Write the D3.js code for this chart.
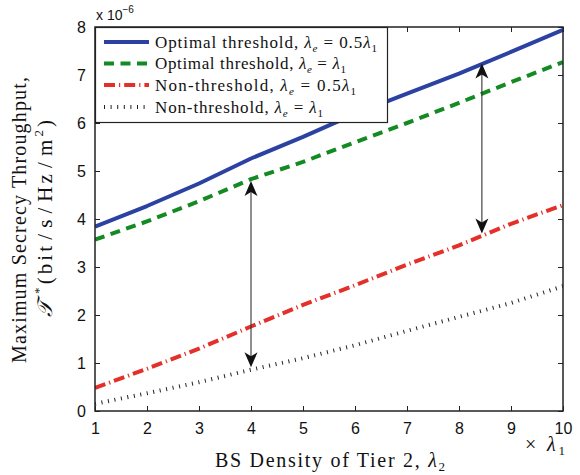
<!DOCTYPE html>
<html><head><meta charset="utf-8">
<script src="https://cdn.jsdelivr.net/npm/d3@7"></script>
<style>
body{margin:0;background:#fff;}
svg{display:block;}
</style></head>
<body>
<svg id="chart" width="580" height="475"></svg>
<script>
// ---- data ----
const xValues = [1,2,3,4,5,6,7,8,9,10];
const optimalHalf = [3.84,4.27,4.74,5.26,5.71,6.19,6.61,7.03,7.48,7.94];
const optimalFull = [3.57,3.95,4.37,4.83,5.19,5.60,6.00,6.42,6.85,7.27];
const nonThreshHalf = [0.48,0.88,1.30,1.76,2.21,2.62,3.05,3.45,3.90,4.29];
const nonThreshFull = [0.15,0.37,0.60,0.86,1.10,1.37,1.67,1.96,2.25,2.60];
const seriesNames = ["Optimal threshold, ","Optimal threshold, ","Non-threshold, ","Non-threshold, "];
const seriesRhs = ["0.5", "", "0.5", ""];
const xTicks = [1,2,3,4,5,6,7,8,9,10];
const yTicks = [0,1,2,3,4,5,6,7,8];
const arrowX = [4, 8.44];
const arrowTop = [4.79, 7.24];
const arrowBottom = [0.91, 3.70];

const series = [
  {vals: optimalHalf, color:"#2b42a3", width:4, dash:null},
  {vals: optimalFull, color:"#138a22", width:4, dash:"10,6.5"},
  {vals: nonThreshHalf, color:"#e3302a", width:4, dash:"11,4,1.2,4"},
  {vals: nonThreshFull, color:"#222", width:4, dash:"1,5.6"}
];
const legendTextLen = [222, 191, 201, 168];

const svg = d3.select("#chart");
const L=95, R=563, T=27, B=411;
const x = d3.scaleLinear().domain([1,10]).range([L,R]);
const y = d3.scaleLinear().domain([0,8]).range([B,T]);

const serif = "'Liberation Serif','Times New Roman',serif";
const sans = "'Liberation Sans',Arial,sans-serif";

// clip
svg.append("defs").append("clipPath").attr("id","clip")
  .append("rect").attr("x",L).attr("y",T).attr("width",R-L).attr("height",B-T);

// lines
const line = d3.line().x((d,i)=>x(xValues[i])).y(d=>y(d));
const g = svg.append("g").attr("clip-path","url(#clip)");
series.forEach(s=>{
  g.append("path").attr("d", line(s.vals)).attr("fill","none")
    .attr("stroke", s.color).attr("stroke-width", s.width)
    .attr("stroke-dasharray", s.dash).attr("stroke-linejoin","round");
});

// arrows
function headPath(){ return "M0,0 L-15,-6.5 L-11,0 L-15,6.5 Z"; }
arrowX.forEach((ax,i)=>{
  const xp = x(ax), y1 = y(arrowTop[i]), y2 = y(arrowBottom[i]);
  svg.append("line").attr("x1",xp).attr("x2",xp).attr("y1",y1+10).attr("y2",y2-10)
    .attr("stroke","#333").attr("stroke-width",1.1);
  svg.append("path").attr("d",headPath()).attr("fill","#111")
    .attr("transform",`translate(${xp},${y1}) rotate(-90)`);
  svg.append("path").attr("d",headPath()).attr("fill","#111")
    .attr("transform",`translate(${xp},${y2}) rotate(90)`);
});

// axes (MATLAB box with inward ticks)
const tl = 5;
const axB = d3.axisBottom(x).tickValues(xTicks).tickSizeInner(-tl).tickSizeOuter(0).tickPadding(12);
const axL = d3.axisLeft(y).tickValues(yTicks).tickSizeInner(-tl).tickSizeOuter(0).tickPadding(9);
const axT = d3.axisTop(x).tickValues(xTicks).tickSizeInner(-tl).tickSizeOuter(0).tickFormat("");
const axR = d3.axisRight(y).tickValues(yTicks).tickSizeInner(-tl).tickSizeOuter(0).tickFormat("");
function styleAx(sel){
  sel.select(".domain").remove();
  sel.selectAll(".tick line").attr("stroke","#222").attr("stroke-width",1);
  sel.selectAll(".tick text").attr("font-family",sans).attr("font-size",16).attr("fill","#111");
}
svg.append("g").attr("transform",`translate(0,${B})`).call(axB).call(styleAx);
svg.append("g").attr("transform",`translate(${L},0)`).call(axL).call(styleAx);
svg.append("g").attr("transform",`translate(0,${T})`).call(axT).call(styleAx);
svg.append("g").attr("transform",`translate(${R},0)`).call(axR).call(styleAx);
svg.append("rect").attr("x",L).attr("y",T).attr("width",R-L).attr("height",B-T)
  .attr("fill","none").attr("stroke","#222").attr("stroke-width",1.5);

// exponent label
const ex = svg.append("text").attr("x",96).attr("y",20).attr("font-family",sans).attr("font-size",14).attr("fill","#111");
ex.append("tspan").text("x 10");
ex.append("tspan").attr("font-size",10).attr("dy",-7).text("−6");

// legend
const lg = svg.append("g");
lg.append("rect").attr("x",95.5).attr("y",27.5).attr("width",292).attr("height",95)
  .attr("fill","#fff").attr("stroke","#222").attr("stroke-width",1.2);
const rowY = [42,63.5,85,107];
series.forEach((s,i)=>{
  lg.append("line").attr("x1",104).attr("x2",149).attr("y1",rowY[i]).attr("y2",rowY[i])
    .attr("stroke",s.color).attr("stroke-width",s.width).attr("stroke-dasharray",s.dash);
  const t = lg.append("text").attr("x",155).attr("y",rowY[i]+5.5)
    .attr("font-family",serif).attr("font-size",17).attr("fill","#111")
    .attr("textLength",legendTextLen[i]).attr("lengthAdjust","spacing");
  t.append("tspan").text(seriesNames[i]);
  t.append("tspan").attr("font-style","italic").text("λ");
  t.append("tspan").attr("font-size",11).attr("font-style","italic").attr("dy",4).text("e");
  t.append("tspan").attr("dy",-4).text(" = " + seriesRhs[i]);
  t.append("tspan").attr("font-style","italic").text("λ");
  t.append("tspan").attr("font-size",11).attr("dy",4).text("1");
});

// x label
const xl = svg.append("text").attr("x",215).attr("y",467)
  .attr("font-family",serif).attr("font-size",20).attr("fill","#111")
  .attr("textLength",230).attr("lengthAdjust","spacing");
xl.append("tspan").text("BS Density of Tier 2, ");
xl.append("tspan").attr("font-style","italic").text("λ");
xl.append("tspan").attr("font-size",13).attr("dy",4).text("2");

const xm = svg.append("text").attr("x",525).attr("y",451)
  .attr("font-family",serif).attr("font-size",20).attr("fill","#111")
  .attr("textLength",40).attr("lengthAdjust","spacing");
xm.append("tspan").text("× ");
xm.append("tspan").attr("font-style","italic").text("λ");
xm.append("tspan").attr("font-size",13).attr("dy",4).text("1");

// y label
const yl = svg.append("g").attr("transform","translate(0,220) rotate(-90)");
yl.append("text").attr("x",-143).attr("y",26)
  .attr("font-family",serif).attr("font-size",20).attr("fill","#111")
  .attr("textLength",286).attr("lengthAdjust","spacing")
  .text("Maximum Secrecy Throughput,");
const y2 = yl.append("text").attr("x",-97).attr("y",52)
  .attr("font-family",serif).attr("font-size",21).attr("fill","#111")
  .attr("textLength",197).attr("lengthAdjust","spacing");
y2.append("tspan").attr("font-style","italic").text("𝒯");
y2.append("tspan").attr("font-size",13).attr("dx",4).attr("dy",-9).text("*");
y2.append("tspan").attr("dy",9).text("(bit");
y2.append("tspan").attr("dx",3).text("/");
y2.append("tspan").attr("dx",3).text("s");
y2.append("tspan").attr("dx",3).text("/");
y2.append("tspan").attr("dx",3).text("Hz");
y2.append("tspan").attr("dx",3).text("/");
y2.append("tspan").attr("dx",3).text("m");
y2.append("tspan").attr("font-size",13).attr("dy",-9).text("2");
y2.append("tspan").attr("dy",9).text(")");
</script>
</body></html>
